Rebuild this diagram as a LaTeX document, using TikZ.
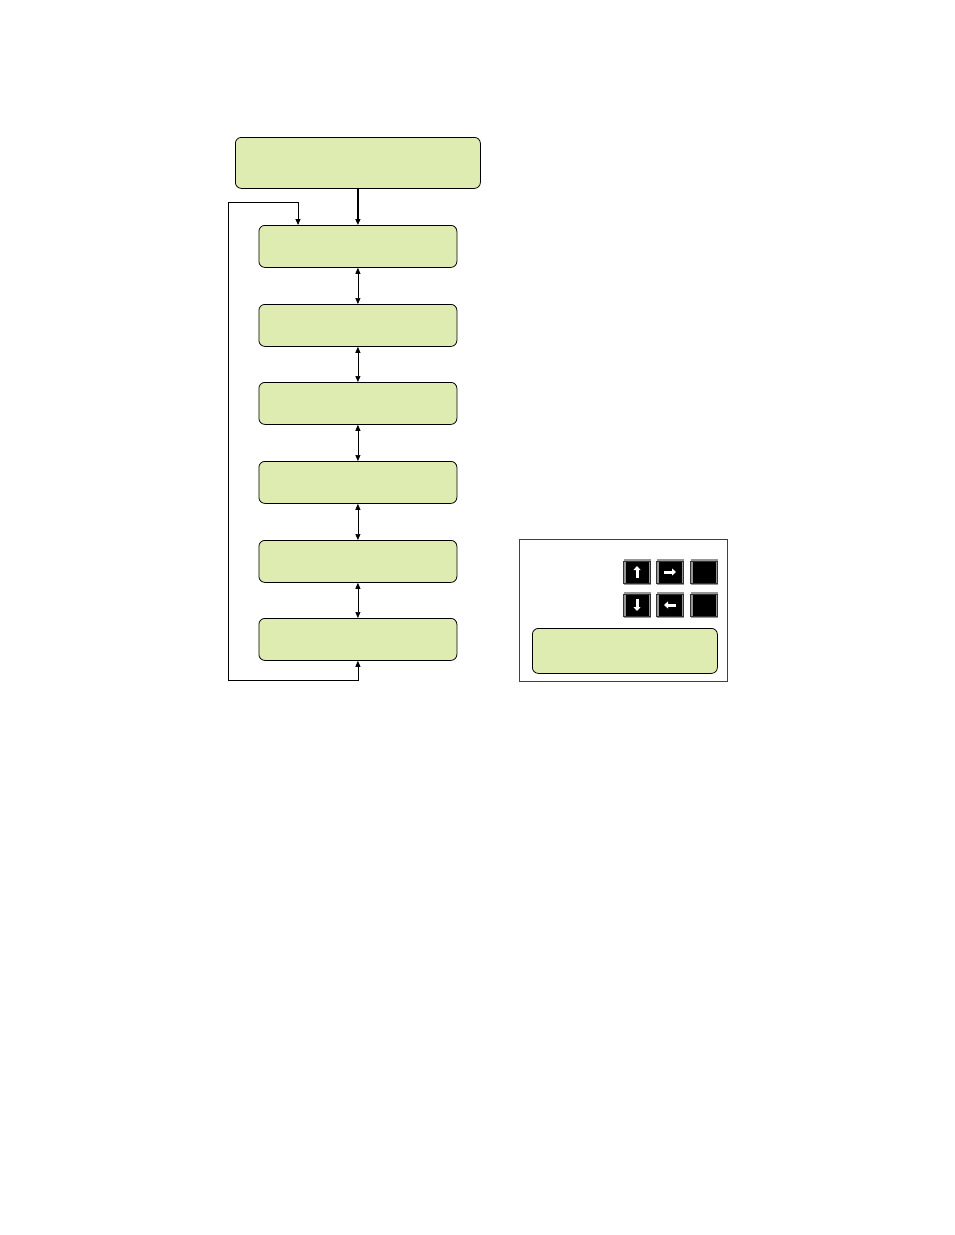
\documentclass[tikz,border=0pt]{standalone}
\usetikzlibrary{arrows.meta,calc}
\definecolor{boxgreen}{RGB}{222,235,177}
\definecolor{keygray}{RGB}{150,150,150}
\begin{document}
\begin{tikzpicture}[x=1pt,y=-1pt,
  gbox/.style={draw=black,fill=boxgreen,rounded corners=6pt,line width=0.8pt},
  conn/.style={line width=0.8pt,-{Triangle[length=6pt,width=5pt]}},
  dconn/.style={line width=0.7pt,{Triangle[length=6pt,width=5pt]}-{Triangle[length=6pt,width=5pt]}},
  keybox/.style={draw=keygray,line width=2pt,fill=black,minimum width=25pt,minimum height=24pt,inner sep=0pt,outer sep=0pt},
  keyout/.style={draw=black!80,line width=0.6pt},
  karrow/.style={white,line width=3pt,-{Triangle[length=4pt,width=7pt]}}
]
\useasboundingbox (0,0) rectangle (954,1235);
% top box
\node[gbox,minimum width=245pt,minimum height=51pt,anchor=north west] (top) at (235,137) {};
% column boxes
\foreach \i/\y in {1/225,2/304,3/382,4/461,5/540,6/618}{
  \node[gbox,minimum width=198pt,minimum height=42pt,anchor=north west] (b\i) at (258.5,\y) {};
}
\draw[conn,line width=1.3pt] (top.south) -- (top.south |- b1.north);
\foreach \i/\j in {1/2,2/3,3/4,4/5,5/6}{
  \draw[dconn] (b\i.south) -- (b\j.north);
}
% loop
\coordinate (l1) at (228,680);
\coordinate (l2) at (228,202);
\coordinate (l3) at (298,202);
\coordinate (l4) at (298,225);
\draw[line width=0.8pt,{Triangle[length=6pt,width=5pt]}-{Triangle[length=6pt,width=5pt]}]
  (b6.south) -- (b6.south |- l1) -- (l1) -- (l2) -- (l3) -- (l4);
% panel
\node[draw=black!75,line width=0.8pt,minimum width=208pt,minimum height=142pt,anchor=north west,inner sep=0pt] (panel) at (519,539) {};
\node[gbox,minimum width=185pt,minimum height=45pt,anchor=north west] (disp) at (532,628) {};
% keys
\foreach \n/\x/\y in {k1/637/572,k2/670/572,k3/704/572,k4/637/605,k5/670/605,k6/704/605}{
  \node[keybox] (\n) at (\x,\y) {};
  \draw[keyout] ($(\n.north west)+(-1.2,1.2)$) rectangle ($(\n.south east)+(1.2,-1.2)$);
}
\draw[karrow] ([yshift=-6pt]k1.center) -- ([yshift=6pt]k1.center);
\draw[karrow] ([xshift=-6pt]k2.center) -- ([xshift=6pt]k2.center);
\draw[karrow] ([yshift=6pt]k4.center) -- ([yshift=-6pt]k4.center);
\draw[karrow] ([xshift=6pt]k5.center) -- ([xshift=-6pt]k5.center);
\end{tikzpicture}
\end{document}
